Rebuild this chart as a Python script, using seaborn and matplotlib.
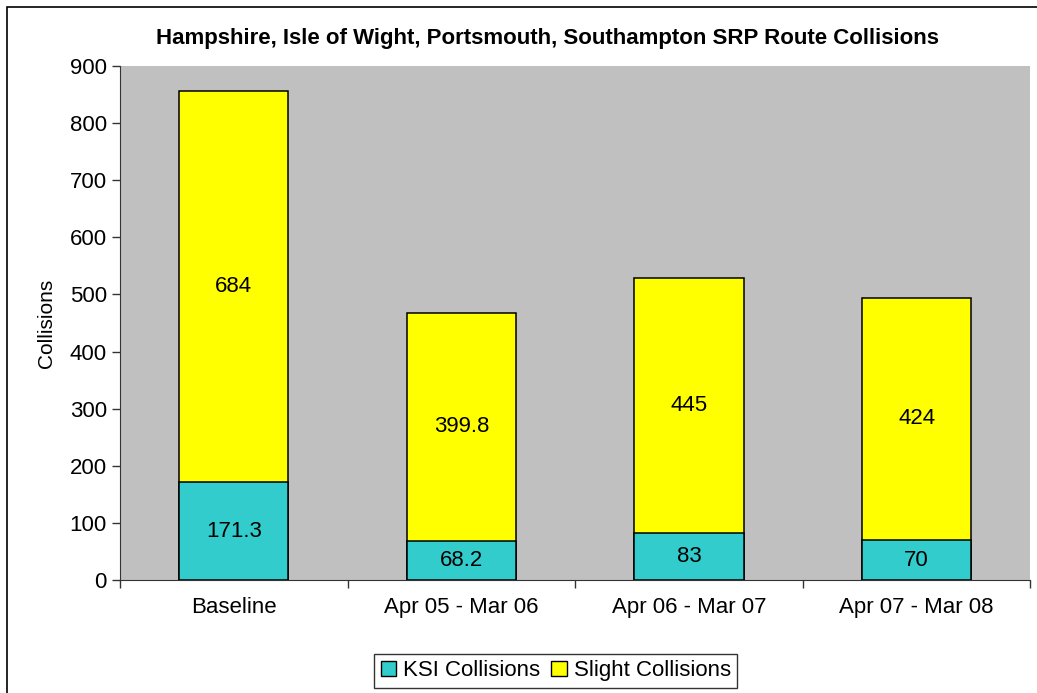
import matplotlib
matplotlib.use("Agg")
import matplotlib.pyplot as plt
import seaborn as sns
import pandas as pd
from matplotlib.patches import Patch, Rectangle

# -----------------------------
# Data
# -----------------------------
periods = ["Baseline", "Apr 05 - Mar 06", "Apr 06 - Mar 07", "Apr 07 - Mar 08"]
ksi = [171.3, 68.2, 83, 70]
slight = [684, 399.8, 445, 424]
ksi_labels = ["171.3", "68.2", "83", "70"]
slight_labels = ["684", "399.8", "445", "424"]

TEAL = "#33CCCC"
YELLOW = "#FFFF00"
GREY = "#C0C0C0"

df = pd.DataFrame({"period": periods, "ksi": ksi, "slight": slight})
df["total"] = df["ksi"] + df["slight"]

sns.set_style("white")
plt.rcParams["font.family"] = ["Liberation Sans", "DejaVu Sans"]
plt.rcParams["text.color"] = "black"
plt.rcParams["axes.labelcolor"] = "black"
plt.rcParams["xtick.color"] = "black"
plt.rcParams["ytick.color"] = "black"

fig = plt.figure(figsize=(10.37, 6.93), dpi=100)
ax = fig.add_axes([0.1157, 0.163, 0.878, 0.742])

# stacked bars: total first (yellow), then KSI on top of it (teal)
sns.barplot(data=df, x="period", y="total", color=YELLOW, width=0.48,
            edgecolor="black", linewidth=1.1, saturation=1, ax=ax)
sns.barplot(data=df, x="period", y="ksi", color=TEAL, width=0.48,
            edgecolor="black", linewidth=1.1, saturation=1, ax=ax)

for i, row in df.iterrows():
    ax.text(i, row["ksi"] / 2, ksi_labels[i], ha="center", va="center", fontsize=16)
    ax.text(i, row["ksi"] + row["slight"] / 2, slight_labels[i],
            ha="center", va="center", fontsize=16)

ax.set_facecolor(GREY)
ax.set_xlim(-0.5, 3.5)
ax.set_ylim(0, 900)
ax.set_yticks(range(0, 901, 100))
ax.set_xticks([0, 1, 2, 3])
ax.set_xticklabels(periods, fontsize=16)
ax.tick_params(axis="y", labelsize=16, length=6, direction="out", left=True, width=1, color="#333333")
ax.tick_params(axis="x", length=0, pad=12)
ax.set_xticks([-0.5, 0.5, 1.5, 2.5, 3.5], minor=True)
ax.tick_params(axis="x", which="minor", length=6, direction="out", bottom=True, width=1, color="#333333")
ax.set_xlabel("")
ax.set_ylabel("Collisions", fontsize=15, labelpad=10)

for side in ["top", "right"]:
    ax.spines[side].set_visible(False)
ax.spines["left"].set_color("#333333")
ax.spines["bottom"].set_color("#333333")

fig.text(0.528, 0.945, "Hampshire, Isle of Wight, Portsmouth, Southampton SRP Route Collisions",
         ha="center", va="center", fontsize=16, fontweight="bold")

handles = [Patch(facecolor=TEAL, edgecolor="black", label="KSI Collisions"),
           Patch(facecolor=YELLOW, edgecolor="black", label="Slight Collisions")]
leg = fig.legend(handles=handles, loc="center", bbox_to_anchor=(0.536, 0.032), ncol=2,
                 fontsize=16, frameon=True, fancybox=False, handlelength=0.7, handleheight=0.7,
                 handletextpad=0.3, columnspacing=0.5, borderpad=0.3)
leg.get_frame().set_edgecolor("black")
leg.get_frame().set_linewidth(1)

# outer chart border
fig.patches.append(Rectangle((0.007, -0.01), 1.0, 1.0, transform=fig.transFigure,
                             fill=False, edgecolor="black", linewidth=1.2))

fig.savefig("out.png", dpi=100)
